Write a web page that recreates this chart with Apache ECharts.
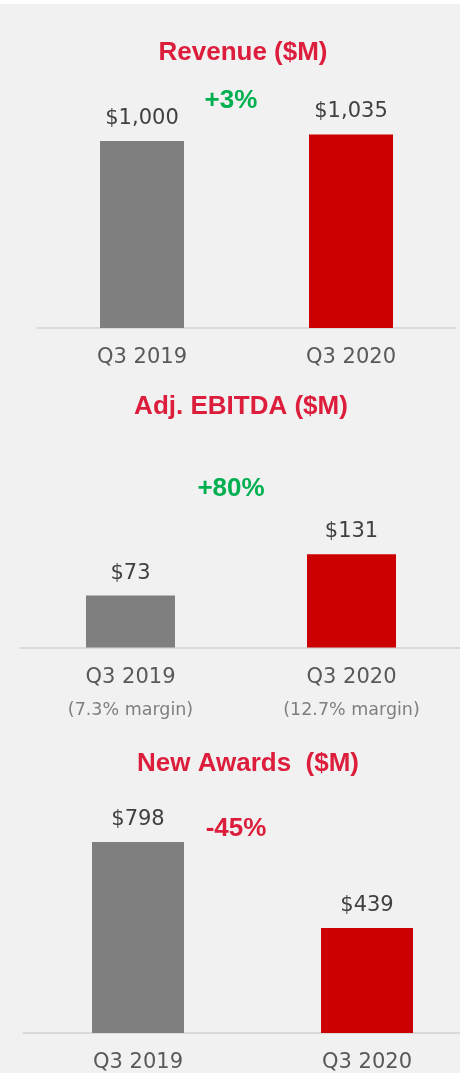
<!DOCTYPE html>
<html>
<head>
<meta charset="utf-8">
<script src="https://cdn.jsdelivr.net/npm/echarts@6/dist/echarts.min.js"></script>
<style>
  html, body { margin: 0; padding: 0; background: #ffffff; overflow: hidden; }
  #chart { position: absolute; left: 0; top: 4px; width: 460px; height: 1069px; background: #f1f1f1; }
</style>
</head>
<body>
<div id="chart"></div>
<script>
// ---- Data ----
const categories = ['Q3 2019', 'Q3 2020'];
const panelTitles = ['Revenue ($M)', 'Adj. EBITDA ($M)', 'New Awards  ($M)'];
const revenue = [1000, 1035];
const ebitda = [73, 131];
const newAwards = [798, 439];
const ebitdaMargins = ['(7.3% margin)', '(12.7% margin)'];
const changes = ['+3%', '+80%', '-45%'];
const valueLabels = [['$1,000', '$1,035'], ['$73', '$131'], ['$798', '$439']];

// ---- Style ----
const OFF = 4; // chart div offset from page top
const TITLE_COLOR = '#dc1e3c';
const GREEN = '#00b050';
const GRAY_BAR = '#7f7f7f';
const RED_BAR = '#cc0000';
const AXIS_COLOR = '#d9d9d9';
const VALUE_COLOR = '#404040';
const CAT_COLOR = '#595959';
const SANS = '"DejaVu Sans", sans-serif';
const BOLD = '"Liberation Sans", Arial, sans-serif';

const panels = [
  { data: revenue, max: 1200, left: 37.5, width: 418, base: 328, scale: 0.187, barWidth: 84,
    title: [243, 53], change: [231, 101], changeColor: GREEN },
  { data: ebitda, max: 200, left: 20, width: 442, base: 647.5, scale: 0.711, barWidth: 89,
    title: [241, 407], change: [231, 489], changeColor: GREEN, margins: ebitdaMargins },
  { data: newAwards, max: 1000, left: 23.5, width: 458, base: 1033, scale: 0.2393, barWidth: 92,
    title: [248, 764], change: [236, 829], changeColor: TITLE_COLOR }
];

const grids = [], xAxes = [], yAxes = [], series = [], titles = [];
panels.forEach((p, i) => {
  const h = p.max * p.scale;
  grids.push({ left: p.left, width: p.width, top: p.base - h - OFF, height: h,
               containLabel: false, outerBoundsMode: 'none' });
  xAxes.push({
    type: 'category', gridIndex: i, data: categories,
    axisLine: { show: true, lineStyle: { color: AXIS_COLOR, width: 2 } },
    axisTick: { show: false },
    axisLabel: {
      margin: 15,
      formatter: (v, idx) => p.margins ? '{c|' + v + '}\n{m|' + p.margins[idx] + '}' : '{c|' + v + '}',
      rich: {
        c: { fontFamily: SANS, fontSize: 21, color: CAT_COLOR, lineHeight: 30 },
        m: { fontFamily: SANS, fontSize: 17.5, color: '#7f7f7f', lineHeight: 36 }
      }
    }
  });
  yAxes.push({ type: 'value', gridIndex: i, min: 0, max: p.max, show: false, splitLine: { show: false } });
  series.push({
    type: 'bar', xAxisIndex: i, yAxisIndex: i, barWidth: p.barWidth,
    data: p.data.map((v, k) => ({ value: v, itemStyle: { color: k === 0 ? GRAY_BAR : RED_BAR } })),
    label: {
      show: true, position: 'top', distance: 12,
      fontFamily: SANS, fontSize: 21, color: VALUE_COLOR,
      formatter: (prm) => valueLabels[i][prm.dataIndex]
    },
    silent: true, animation: false
  });
  titles.push({
    text: panelTitles[i], left: p.title[0], top: p.title[1] - 13 - OFF, textAlign: 'center', padding: 0,
    textStyle: { fontFamily: BOLD, fontWeight: 'bold', fontSize: 26, color: TITLE_COLOR, lineHeight: 26 }
  });
  titles.push({
    text: changes[i], left: p.change[0], top: p.change[1] - 13 - OFF, textAlign: 'center', padding: 0,
    textStyle: { fontFamily: BOLD, fontWeight: 'bold', fontSize: 26, color: p.changeColor, lineHeight: 26 }
  });
});

const chart = echarts.init(document.getElementById('chart'), null, { renderer: 'canvas' });
chart.setOption({
  backgroundColor: '#f1f1f1',
  animation: false,
  title: titles,
  grid: grids,
  xAxis: xAxes,
  yAxis: yAxes,
  series: series
});
</script>
</body>
</html>
